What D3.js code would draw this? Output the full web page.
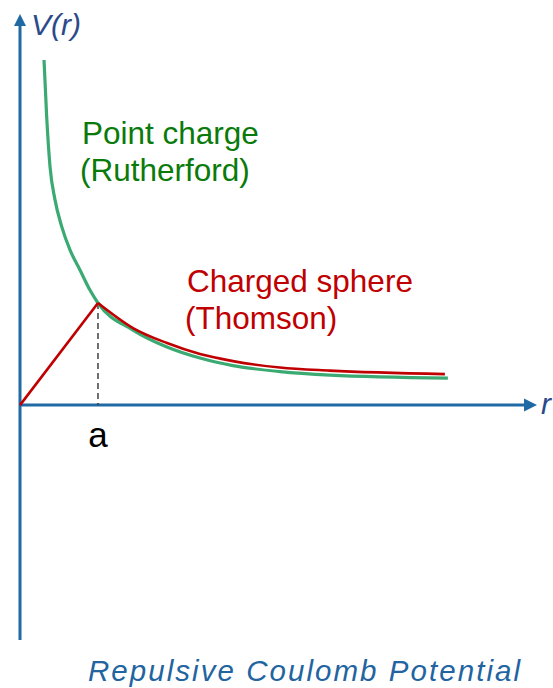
<!DOCTYPE html>
<html>
<head>
<meta charset="utf-8">
<script src="https://cdn.jsdelivr.net/npm/d3@7"></script>
<style>
  body { margin: 0; background: #fff; }
  svg { display: block; font-family: "Liberation Sans", Arial, sans-serif; }
</style>
</head>
<body>
<svg id="chart" width="553" height="688"></svg>
<script>
// r in units of a, V in units of V(a)
const pointCharge = [
  [0.308, 3.38], [0.342, 2.826], [0.385, 2.336], [0.449, 2.01], [0.535, 1.748],
  [0.641, 1.52], [0.769, 1.324], [0.897, 1.127], [1.0, 1.0], [1.449, 0.735],
  [1.885, 0.569], [2.308, 0.461], [2.731, 0.387], [3.333, 0.328], [3.974, 0.294],
  [5.487, 0.265]
];
const sphereInside = [[0, 0], [1, 1]];
const sphereOutside = [
  [1.0, 1.0], [1.449, 0.755], [1.885, 0.608], [2.308, 0.5], [2.731, 0.431],
  [3.333, 0.368], [3.974, 0.338], [5.449, 0.304]
];
const radiusA = 1;
const labels = ['Point charge', '(Rutherford)', 'Charged sphere', '(Thomson)'];
const caption = 'Repulsive Coulomb Potential';

const svg = d3.select('#chart');
const x = d3.scaleLinear().domain([0, 6.63]).range([20, 537]);
const y = d3.scaleLinear().domain([-2.3, 3.83]).range([640, 14]);

const axisColor = '#1f6aa5';

// axes
svg.append('line')
  .attr('x1', x(0)).attr('x2', x(0))
  .attr('y1', y(-2.3)).attr('y2', y(3.83) + 10)
  .attr('stroke', axisColor).attr('stroke-width', 3);
svg.append('line')
  .attr('x1', x(0)).attr('x2', x(6.63) - 10)
  .attr('y1', y(0)).attr('y2', y(0))
  .attr('stroke', axisColor).attr('stroke-width', 3);

// arrow heads
svg.append('path')
  .attr('d', `M${x(0)},${y(3.83)} L${x(0) - 6},${y(3.83) + 12} L${x(0) + 6},${y(3.83) + 12} Z`)
  .attr('fill', axisColor);
svg.append('path')
  .attr('d', `M${x(6.63)},${y(0)} L${x(6.63) - 13},${y(0) - 6.5} L${x(6.63) - 13},${y(0) + 6.5} Z`)
  .attr('fill', axisColor);

// dashed marker at r = a
svg.append('line')
  .attr('x1', x(radiusA)).attr('x2', x(radiusA))
  .attr('y1', y(1)).attr('y2', y(0))
  .attr('stroke', '#333').attr('stroke-width', 1.4)
  .attr('stroke-dasharray', '6,4');

const smooth = d3.line().x(d => x(d[0])).y(d => y(d[1])).curve(d3.curveMonotoneX);
const straight = d3.line().x(d => x(d[0])).y(d => y(d[1]));

svg.append('path')
  .attr('d', smooth(pointCharge))
  .attr('fill', 'none').attr('stroke', '#3aaa72').attr('stroke-width', 3.2);

svg.append('path')
  .attr('d', straight(sphereInside))
  .attr('fill', 'none').attr('stroke', '#c00000').attr('stroke-width', 2.6);
svg.append('path')
  .attr('d', smooth(sphereOutside))
  .attr('fill', 'none').attr('stroke', '#c00000').attr('stroke-width', 2.6);

// text
const txt = (t, px, py, size, color, extra) => {
  const s = svg.append('text').attr('x', px).attr('y', py)
    .attr('font-size', size).attr('fill', color).text(t);
  if (extra) extra(s);
  return s;
};
txt(labels[0], 82, 144, 31.5, '#0a7a0a');
txt(labels[1], 80, 181, 31.5, '#0a7a0a');
txt(labels[2], 187, 292, 31.5, '#c00000');
txt(labels[3], 185, 329, 31.5, '#c00000');
txt('a', x(radiusA), 447, 35, '#000', s => s.attr('text-anchor', 'middle'));
txt('V(r)', 31, 35, 30, '#2b4a8a', s => s.attr('font-style', 'italic'));
txt('r', 541, 414, 30, '#2b4a8a', s => s.attr('font-style', 'italic'));
txt(caption, 88, 681, 29.5, '#2264a0', s => s.attr('font-style', 'italic')
  .attr('textLength', 432).attr('lengthAdjust', 'spacing'));
</script>
</body>
</html>
